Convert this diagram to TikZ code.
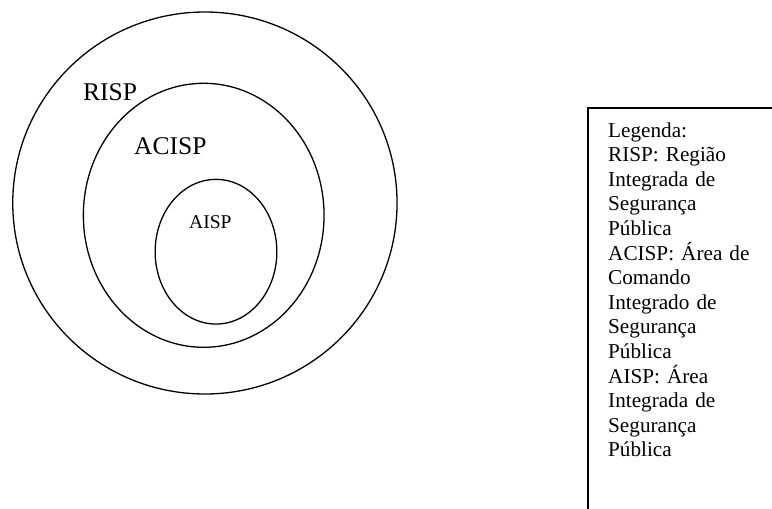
\documentclass[tikz,border=0pt]{standalone}
\usepackage{fontspec}
\setmainfont{Liberation Serif}
\usetikzlibrary{shapes.geometric}
\tikzset{
  zone/.style = {ellipse, draw=black, line width=1.3pt, inner sep=0pt},% contorno da area
  zonelabel/.style = {anchor=base west, inner sep=0pt,
    font=\fontsize{25.5}{30}\selectfont},% rotulo grande
  smalllabel/.style = {zonelabel, font=\fontsize{19.5}{23}\selectfont},% rotulo pequeno
  legendbox/.style = {rectangle, draw=black, line width=2pt, anchor=north west,
    inner sep=0pt, outer sep=0pt},
  legendtext/.style = {anchor=base west, inner sep=0pt, align=left,
    text width=160pt, font=\fontsize{21.2}{24.6}\selectfont}
}

\begin{document}
\begin{tikzpicture}[x=1pt, y=-1pt]
  \useasboundingbox (0,0) rectangle (772,509);
  \clip (0,0) rectangle (772,509);
  % areas
  \node [zone, minimum width=384.3pt, minimum height=382pt] (risp) at (204.9,203) {};
  \node [zone, minimum width=240.7pt, minimum height=264pt] (acisp) at (203.7,215.3) {};
  \node [zone, minimum width=121.7pt, minimum height=144.7pt] (aisp) at (216,251.7) {};
  \node [zonelabel] (rispname) at (83,100) {RISP};
  \node [zonelabel] (acispname) at (134,154) {ACISP};
  \node [smalllabel] (aispname) at (189,228.3) {AISP};
  % legenda
  \node [legendbox, minimum width=260pt, minimum height=460pt] (box) at (588,107.7) {};
  \node [legendtext] (legend) at (608,137) {Legenda:\\
    RISP: Região\\ Integrada de\\ Segurança\\ Pública\\
    ACISP: Área de\\ Comando\\ Integrado de\\ Segurança\\ Pública\\
    AISP: Área\\ Integrada de\\ Segurança\\ Pública};
\end{tikzpicture}
\end{document}
